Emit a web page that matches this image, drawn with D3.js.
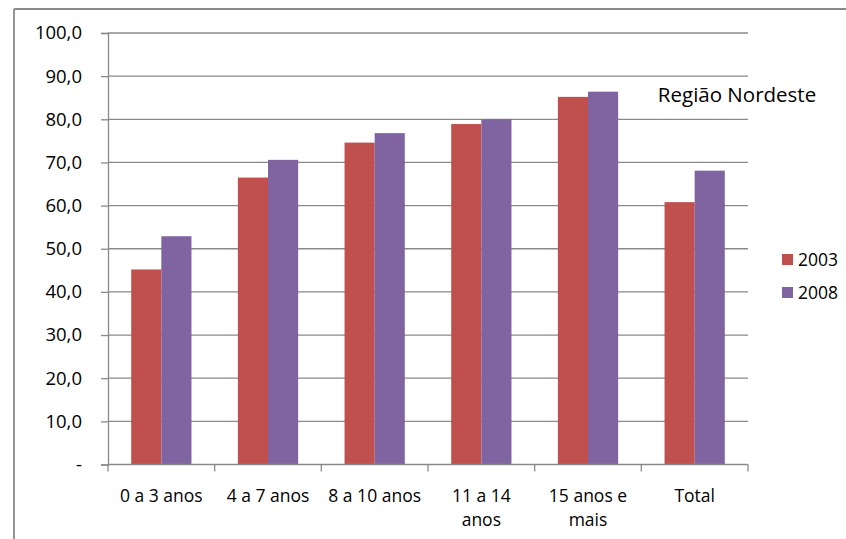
<!DOCTYPE html>
<html>
<head>
<meta charset="utf-8">
<script src="https://cdn.jsdelivr.net/npm/d3@7"></script>
<style>
  html, body { margin: 0; padding: 0; background: #fff; }
  svg { display: block; }
  text { font-family: "Open Sans", sans-serif; fill: #000; }
</style>
</head>
<body>
<svg id="chart" width="846" height="539"></svg>
<script>
const categories = ["0 a 3 anos", "4 a 7 anos", "8 a 10 anos", "11 a 14\nanos", "15 anos e\nmais", "Total"];
const seriesNames = ["2003", "2008"];
const values2003 = [45.2, 66.5, 74.6, 78.9, 85.2, 60.8];
const values2008 = [52.9, 70.6, 76.8, 80.0, 86.4, 68.1];
const yTicks = [0, 10, 20, 30, 40, 50, 60, 70, 80, 90, 100];
const colors = ["#C0504D", "#8064A2"];
const title = "Região Nordeste";

const svg = d3.select("#chart");
const W = 846, H = 539;
const plot = { left: 108, right: 748, top: 33, bottom: 464.5 };

// outer frame (left and top edges visible)
svg.append("line").attr("x1", 14).attr("x2", 14).attr("y1", 9).attr("y2", H)
  .attr("stroke", "#8a8a8a").attr("stroke-width", 1.8);
svg.append("line").attr("x1", 14).attr("x2", W).attr("y1", 9).attr("y2", 9)
  .attr("stroke", "#8a8a8a").attr("stroke-width", 1.8);

const x0 = d3.scaleBand().domain(categories).range([plot.left, plot.right]).paddingInner(0.435).paddingOuter(0.2175);
const x1 = d3.scaleBand().domain(seriesNames).range([0, x0.bandwidth()]);
const y = d3.scaleLinear().domain([0, 100]).range([plot.bottom, plot.top]);

// gridlines + y axis
const yAxis = d3.axisLeft(y).tickValues(yTicks).tickSize(7).tickPadding(19)
  .tickFormat(d => d === 0 ? "-" : d3.format(".1f")(d).replace(".", ","));
const gy = svg.append("g").attr("transform", `translate(${plot.left},0)`).call(yAxis);
gy.select(".domain").attr("stroke", "#8a8a8a").attr("stroke-width", 1.3);
gy.selectAll(".tick line").attr("stroke", "#8a8a8a").attr("stroke-width", 1.3);
gy.selectAll(".tick text").attr("font-size", "18.5px").attr("font-family", "Open Sans, sans-serif").attr("fill", "#000");

svg.append("g").selectAll("line").data(yTicks.filter(d => d > 0)).join("line")
  .attr("x1", plot.left).attr("x2", plot.right)
  .attr("y1", d => y(d)).attr("y2", d => y(d))
  .attr("stroke", "#8a8a8a").attr("stroke-width", 1.3);

// bars
const rows = categories.map((c, i) => ({ cat: c, vals: [values2003[i], values2008[i]] }));
const groups = svg.append("g").selectAll("g").data(rows).join("g")
  .attr("transform", d => `translate(${x0(d.cat)},0)`);
groups.selectAll("rect").data(d => d.vals.map((v, j) => ({ key: seriesNames[j], v, j }))).join("rect")
  .attr("x", d => x1(d.key))
  .attr("width", x1.bandwidth())
  .attr("y", d => y(d.v))
  .attr("height", d => y(0) - y(d.v))
  .attr("fill", d => colors[d.j]);

// x axis
const step = (plot.right - plot.left) / categories.length;
const xAxisLine = svg.append("g");
xAxisLine.append("line").attr("x1", plot.left).attr("x2", plot.right)
  .attr("y1", y(0)).attr("y2", y(0)).attr("stroke", "#8a8a8a").attr("stroke-width", 1.3);
xAxisLine.selectAll("line.tk").data(d3.range(categories.length + 1)).join("line").attr("class", "tk")
  .attr("x1", i => plot.left + i * step).attr("x2", i => plot.left + i * step)
  .attr("y1", y(0)).attr("y2", y(0) + 7)
  .attr("stroke", "#8a8a8a").attr("stroke-width", 1.3);

const xl = svg.append("g").selectAll("text").data(categories).join("text")
  .attr("text-anchor", "middle")
  .attr("font-size", "17.5px")
  .attr("x", d => x0(d) + x0.bandwidth() / 2)
  .attr("y", 501.5);
xl.each(function(d) {
  const t = d3.select(this);
  d.split("\n").forEach((line, k) => {
    t.append("tspan").attr("x", x0(d) + x0.bandwidth() / 2).attr("dy", k === 0 ? 0 : 24.5).text(line);
  });
});

// title
svg.append("text").attr("x", 737).attr("y", 102).attr("text-anchor", "middle")
  .attr("font-size", "20.5px").text(title);

// legend
const lg = svg.append("g").selectAll("g").data(seriesNames).join("g")
  .attr("transform", (d, i) => `translate(782,${254 + i * 33})`);
lg.append("rect").attr("width", 11).attr("height", 11).attr("fill", (d, i) => colors[i]);
lg.append("text").attr("x", 16).attr("y", 11.5).attr("font-size", "17.5px").text(d => d);
</script>
</body>
</html>
